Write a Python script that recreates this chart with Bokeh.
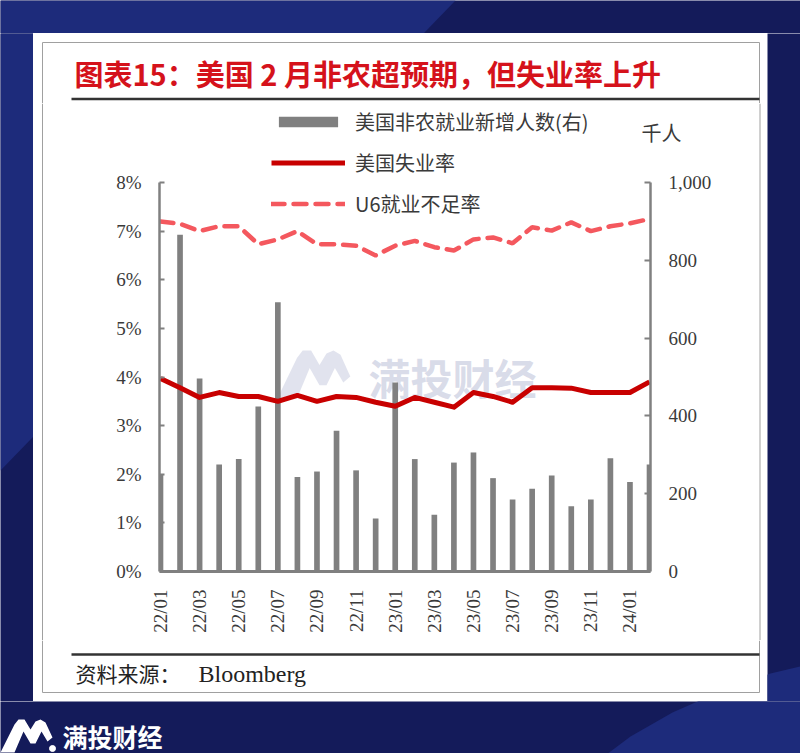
import math
from bokeh.plotting import figure
from bokeh.models import Range1d, LinearAxis, FixedTicker, Label, Legend, LegendItem, PolyAnnotation
from bokeh.layouts import column, row
from bokeh.embed import file_html
from bokeh.resources import INLINE

# ---------------- data ----------------
months = ["22/01", "22/02", "22/03", "22/04", "22/05", "22/06", "22/07", "22/08", "22/09",
          "22/10", "22/11", "22/12", "23/01", "23/02", "23/03", "23/04", "23/05", "23/06",
          "23/07", "23/08", "23/09", "23/10", "23/11", "23/12", "24/01", "24/02"]
nfp = [250, 866, 496, 275, 289, 424, 692, 243, 257, 362, 260, 136, 486, 289, 146, 280,
       306, 240, 185, 213, 247, 168, 185, 291, 230, 275]
unemp = [3.97, 3.78, 3.58, 3.68, 3.6, 3.6, 3.5, 3.62, 3.5, 3.6, 3.58, 3.48, 3.4, 3.58,
         3.48, 3.38, 3.68, 3.6, 3.48, 3.78, 3.78, 3.77, 3.68, 3.68, 3.68, 3.9]
u6 = [7.2, 7.15, 7.0, 7.1, 7.1, 6.73, 6.83, 7.0, 6.73, 6.73, 6.7, 6.5, 6.7, 6.8, 6.67,
      6.6, 6.83, 6.87, 6.75, 7.08, 7.01, 7.18, 7.0, 7.1, 7.16, 7.25]
left_ticks = [0, 1, 2, 3, 4, 5, 6, 7, 8]
left_labels = ["0%", "1%", "2%", "3%", "4%", "5%", "6%", "7%", "8%"]
right_ticks = [0, 200, 400, 600, 800, 1000]
right_labels = ["0", "200", "400", "600", "800", "1,000"]
x_ticks = list(range(0, 26, 2))
x_labels = [months[i] for i in x_ticks]
series_names = ["美国非农就业新增人数(右)", "美国失业率", "U6就业不足率"]
title_text = "图表15：美国 2 月非农超预期，但失业率上升"
unit_text = "千人"
source_cn = "资料来源："
source_en = "Bloomberg"
brand = "满投财经"

DARK = "#141b5a"
LIGHT = "#1d2b7b"
CJK = "Noto Sans CJK SC"
SERIF = "Liberation Serif"
AX = "#808080"
TXT = "#3a3a3a"
BORDER = "#a0a0a0"

# page layout (pixels)
PANEL_L, PANEL_R, PANEL_T, PANEL_B = 33, 767, 33, 701
HEAD_B = 103          # header bottom / chart top
FOOT_T = 640          # footer top
FL, FR, FT, FB = 159, 650, HEAD_B, 571   # chart frame
AX_TOP = 182          # page y of the 8% / 1,000 tick
CH_L, CH_R = 50, 758  # chart figure horizontal extent
UNIT_Y = 132          # page y of the unit caption


def fx(px):
    return px - FL


def fy(py):
    return FB - py


def plain_fig(w, h, bg):
    f = figure(width=w, height=h, x_range=Range1d(0, w), y_range=Range1d(0, h),
               output_backend="svg", toolbar_location=None, title=None,
               x_axis_location=None, y_axis_location=None, min_border=0, frame_align=False)
    f.grid.visible = False
    f.outline_line_color = None
    f.background_fill_color = bg
    f.border_fill_color = bg
    return f


# logo outline (page pixels, bottom-left brand); reused scaled for the watermark
logo = [(0, 752), (14, 724), (18, 719), (24, 719), (30, 729), (35, 721), (40, 719), (45, 722),
        (52, 737), (47, 741), (41, 731), (35, 743), (30, 743), (23, 731), (14, 752)]

# ---------------- main chart ----------------
xs = list(range(len(months)))
yscale = (FB - FT) / (FB - AX_TOP)
p = figure(width=CH_R - CH_L, height=FOOT_T - HEAD_B,
           x_range=Range1d(-0.05, len(months) - 1 + 0.05),
           y_range=Range1d(0, left_ticks[-1] * yscale),
           output_backend="svg", toolbar_location=None, title=None, frame_align=False,
           min_border_left=FL - CH_L, min_border_right=CH_R - FR,
           min_border_top=0, min_border_bottom=FOOT_T - FB)
p.extra_y_ranges = {"nfp": Range1d(0, right_ticks[-1] * yscale)}
p.background_fill_color = "white"
p.border_fill_color = "white"
p.outline_line_color = None
p.grid.visible = False

# watermark (drawn first, underneath)
wm_x = [fx(277 + (q[0] - 0) * 1.4) for q in logo]
wm_y = [fy(350 + (q[1] - 719) * 1.45) for q in logo]
p.add_layout(PolyAnnotation(xs=wm_x, ys=wm_y, xs_units="screen", ys_units="screen",
                            fill_color="#c3c8dd", fill_alpha=0.5, line_color=None, level="underlay"))
p.add_layout(Label(x=fx(368), y=fy(376), x_units="screen", y_units="screen", text=brand,
                   text_font=CJK, text_font_size="42px", text_font_style="bold",
                   text_color="#b9bed6", text_alpha=0.55, text_baseline="middle", level="underlay"))

bars = p.vbar(x=xs, top=nfp, width=0.29, y_range_name="nfp", fill_color="#808080", line_color=None)
l6 = p.line(xs, u6, line_color="#f4585e", line_width=4.5, line_dash="13 9", line_cap="round")
lu = p.line(xs, unemp, line_color="#c80000", line_width=5, line_join="round")

xa = p.xaxis[0]
xa.ticker = FixedTicker(ticks=x_ticks)
xa.major_label_overrides = {t: l for t, l in zip(x_ticks, x_labels)}
xa.major_label_orientation = math.pi / 2
xa.axis_line_color = AX
xa.axis_line_width = 3
xa.major_tick_line_color = None
xa.minor_tick_line_color = None
xa.major_label_standoff = 12
xa.major_label_text_font = SERIF
xa.major_label_text_font_size = "19px"
xa.major_label_text_color = TXT

ya = p.yaxis[0]
ya.ticker = FixedTicker(ticks=left_ticks)
ya.bounds = (left_ticks[0], left_ticks[-1])
ya.major_label_overrides = {t: l for t, l in zip(left_ticks, left_labels)}
ya.axis_line_color = AX
ya.axis_line_width = 2.5
ya.major_tick_line_color = AX
ya.major_tick_line_width = 2
ya.major_tick_in = 5
ya.major_tick_out = 0
ya.minor_tick_line_color = None
ya.major_label_standoff = 18
ya.major_label_text_font = SERIF
ya.major_label_text_font_size = "19px"
ya.major_label_text_color = TXT

ra = LinearAxis(y_range_name="nfp", ticker=FixedTicker(ticks=right_ticks))
ra.bounds = (right_ticks[0], right_ticks[-1])
ra.major_label_overrides = {t: l for t, l in zip(right_ticks, right_labels)}
ra.axis_line_color = AX
ra.axis_line_width = 2.5
ra.major_tick_line_color = AX
ra.major_tick_line_width = 2
ra.major_tick_in = 6
ra.major_tick_out = 0
ra.minor_tick_line_color = None
ra.major_label_standoff = 18
ra.major_label_text_font = SERIF
ra.major_label_text_font_size = "19px"
ra.major_label_text_color = TXT
p.add_layout(ra, "right")

# unit caption "千人" as the only label of an unlined second right axis
unit_val = round((FB - UNIT_Y) / (FB - AX_TOP) * right_ticks[-1], 1)
ua = LinearAxis(y_range_name="nfp", ticker=FixedTicker(ticks=[unit_val]),
                major_label_overrides={unit_val: unit_text},
                axis_line_color=None, major_tick_line_color=None, minor_tick_line_color=None,
                major_tick_in=0, major_tick_out=0, major_label_standoff=-73,
                major_label_text_font=CJK, major_label_text_font_size="20px",
                major_label_text_color=TXT, axis_label="\u3000", axis_label_standoff=30,
                axis_label_text_font=CJK, axis_label_text_font_size="20px")
p.add_layout(ua, "right")

legend = Legend(items=[LegendItem(label=series_names[0], renderers=[bars]),
                       LegendItem(label=series_names[1], renderers=[lu]),
                       LegendItem(label=series_names[2], renderers=[l6])],
                location=(fx(271), fy(218)), orientation="vertical",
                glyph_width=74, glyph_height=13, label_standoff=10, spacing=12,
                padding=0, margin=0, label_height=20,
                label_text_font=CJK, label_text_font_size="20px", label_text_color=TXT,
                background_fill_alpha=0, border_line_alpha=0)
p.add_layout(legend)

# ---------------- header / footer / sides of the white panel ----------------
PW = PANEL_R - PANEL_L
head = plain_fig(PW, HEAD_B - PANEL_T, "white")
hy = lambda py: HEAD_B - py
hx = lambda px: px - PANEL_L
head.segment(x0=[hx(42), hx(42), hx(759)], y0=[hy(42), hy(42), hy(42)],
             x1=[hx(759), hx(42), hx(759)], y1=[hy(42), hy(HEAD_B), hy(HEAD_B)],
             line_color=BORDER, line_width=1)
head.segment(x0=[hx(71)], y0=[hy(98.5)], x1=[hx(759)], y1=[hy(98.5)], line_color="#333333", line_width=2.5)
head.add_layout(Label(x=hx(74), y=hy(72), text=title_text, text_font=CJK, text_font_size="29px",
                      text_font_style="bold", text_color="#d5121b", text_baseline="middle"))

foot = plain_fig(PW, PANEL_B - FOOT_T, "white")
ty = lambda py: PANEL_B - py
foot.segment(x0=[hx(42), hx(42), hx(759)], y0=[ty(692), ty(FOOT_T), ty(FOOT_T)],
             x1=[hx(759), hx(42), hx(759)], y1=[ty(692), ty(692), ty(692)],
             line_color=BORDER, line_width=1)
foot.segment(x0=[hx(71)], y0=[ty(654)], x1=[hx(759)], y1=[ty(654)], line_color="#333333", line_width=2.5)
foot.add_layout(Label(x=hx(75), y=ty(672), text=source_cn, text_font=CJK, text_font_size="21px",
                      text_color="#222222", text_baseline="middle"))
foot.add_layout(Label(x=hx(198), y=ty(673), text=source_en, text_font=SERIF, text_font_size="24px",
                      text_color="#222222", text_baseline="middle"))

side_l = plain_fig(CH_L - PANEL_L, FOOT_T - HEAD_B, "white")
side_l.segment(x0=[42 - PANEL_L], y0=[0], x1=[42 - PANEL_L], y1=[FOOT_T - HEAD_B], line_color=BORDER, line_width=1)
side_r = plain_fig(PANEL_R - CH_R, FOOT_T - HEAD_B, "white")
side_r.segment(x0=[759.5 - CH_R], y0=[0], x1=[759.5 - CH_R], y1=[FOOT_T - HEAD_B], line_color=BORDER, line_width=1)

# ---------------- dark blue surround ----------------
light_polys = [
    [(0, 0), (455, 0), (0, 470)],
    [(598, 760), (630, 736), (672, 712), (722, 690), (770, 673), (800, 666), (800, 760)],
]


def strip(w, h, left_px, top_px):
    f = plain_fig(w, h, DARK)
    for poly in light_polys:
        f.patch([q[0] - left_px for q in poly], [top_px + h - q[1] for q in poly],
                fill_color=LIGHT, line_color=None)
    return f


top = strip(800, PANEL_T, 0, 0)
left = strip(PANEL_L, PANEL_B - PANEL_T, 0, PANEL_T)
right = strip(800 - PANEL_R, PANEL_B - PANEL_T, PANEL_R, PANEL_T)
bottom = strip(800, 753 - PANEL_B, 0, PANEL_B)

bottom.patch([q[0] for q in logo], [753 - q[1] for q in logo], fill_color="white", line_color=None)
bottom.scatter([52], [753 - 748], size=6, color="white")
bottom.add_layout(Label(x=62, y=753 - 735, text=brand, text_font=CJK, text_font_size="25px",
                        text_font_style="bold", text_color="white", text_baseline="middle"))

panel = column(head, row(side_l, p, side_r, spacing=0), foot, spacing=0)
layout = column(top, row(left, panel, right, spacing=0), bottom, spacing=0)

open("out.html", "w").write(file_html(layout, INLINE))
